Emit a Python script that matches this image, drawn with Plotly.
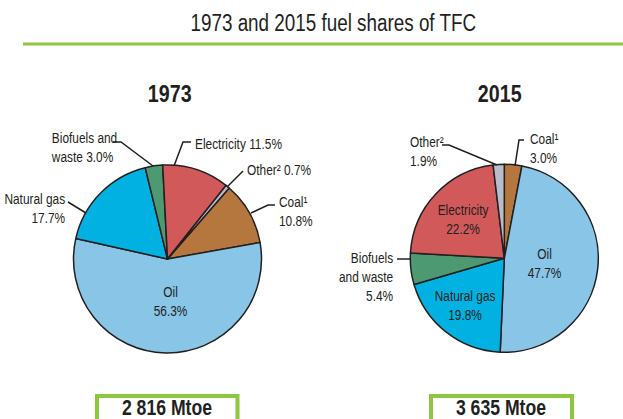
import plotly.graph_objects as go

# ---------------- data ----------------
years = ["1973", "2015"]
fuels = ["Coal¹", "Oil", "Natural gas", "Biofuels and waste", "Electricity", "Other²"]
shares_1973 = [10.8, 56.3, 17.7, 3.0, 11.5, 0.7]
shares_2015 = [3.0, 47.7, 19.8, 5.4, 22.2, 1.9]
totals_mtoe = [2816, 3635]
title_text = "1973 and 2015 fuel shares of TFC"

# ---------------- styling ----------------
W, H = 623, 419
colors = ["#B5773D", "#89C5E7", "#00B1E1", "#4D9A72", "#D2595A", "#B8BDCC"]
ink = "#231F20"
green = "#8DC63F"
FONT = "Liberation Sans Narrow, Arial Narrow, Liberation Sans, Arial, sans-serif"


def X(px):
    return px / W


def Y(py):
    return 1 - py / H


pies = [
    dict(cx=167.5, cy=259.0, r=94.0, rotation=41, values=shares_1973),
    dict(cx=504.3, cy=258.3, r=94.0, rotation=0, values=shares_2015),
]

fig = go.Figure()
for p in pies:
    fig.add_trace(go.Pie(
        labels=fuels,
        values=p["values"],
        sort=False,
        direction="clockwise",
        rotation=p["rotation"],
        marker=dict(colors=colors, line=dict(color=ink, width=1.5)),
        textinfo="none",
        hoverinfo="label+percent",
        showlegend=False,
        domain=dict(x=[X(p["cx"] - p["r"]), X(p["cx"] + p["r"])],
                    y=[Y(p["cy"] + p["r"]), Y(p["cy"] - p["r"])]),
    ))

label_specs = [
    [
        (3, "Biofuels and<br>waste {v:.1f}%", 49, 147.8, "left"),
        (4, "Electricity {v:.1f}%", 192.7, 144, "left"),
        (5, "Other² {v:.1f}%", 245, 170, "left"),
        (0, "Coal¹<br>{v:.1f}%", 276.7, 211.2, "left"),
        (2, "Natural gas<br>{v:.1f}%", 66.7, 208.8, "right"),
        (1, "Oil<br>{v:.1f}%", 170, 301.2, "center"),
    ],
    [
        (5, "Other²<br>{v:.1f}%", 407.7, 151.2, "left"),
        (0, "Coal¹<br>{v:.1f}%", 528, 148.3, "left"),
        (4, "Electricity<br>{v:.1f}%", 463, 219.7, "center"),
        (2, "Natural gas<br>{v:.1f}%", 465, 305.5, "center"),
        (1, "Oil<br>{v:.1f}%", 544.7, 263, "center"),
        (3, "Biofuels<br>and waste<br>{v:.1f}%", 395, 277.2, "right"),
    ],
]

annotations = []
for yi, specs in enumerate(label_specs):
    vals = pies[yi]["values"]
    for idx, tpl, x, y, anc in specs:
        annotations.append(dict(
            text=tpl.format(v=vals[idx]), x=X(x), y=Y(y), xref="paper", yref="paper",
            xanchor=anc, yanchor="middle", align=anc, showarrow=False,
            font=dict(family=FONT, size=14.5, color=ink),
        ))

annotations.append(dict(text=title_text, x=X(333), y=Y(23), xref="paper", yref="paper",
                        xanchor="center", yanchor="middle", showarrow=False,
                        font=dict(family=FONT, size=23, color=ink)))
for yr, xc in zip(years, [169.7, 499.3]):
    annotations.append(dict(text="<b>" + yr + "</b>", x=X(xc), y=Y(93.3), xref="paper", yref="paper",
                            xanchor="center", yanchor="middle", showarrow=False,
                            font=dict(family=FONT, size=24, color=ink)))
shapes = []
for tot, (x0, x1) in zip(totals_mtoe, [(97, 237.5), (431, 572)]):
    txt = f"{tot:,}".replace(",", " ") + " Mtoe"
    annotations.append(dict(text="<b>" + txt + "</b>", x=X((x0 + x1) / 2), y=Y(407.5),
                            xref="paper", yref="paper", xanchor="center", yanchor="middle",
                            showarrow=False, font=dict(family=FONT, size=21.5, color=ink)))
    shapes.append(dict(type="rect", xref="paper", yref="paper", x0=X(x0), x1=X(x1),
                       y0=Y(440), y1=Y(396), line=dict(color=green, width=4)))

shapes.append(dict(type="line", xref="paper", yref="paper", x0=X(23), x1=X(625),
                   y0=Y(44), y1=Y(44), line=dict(color=green, width=3)))

leaders = [
    [(113, 142), (121, 142), (153, 166)],
    [(191, 142), (183, 142), (174, 166)],
    [(243, 171), (227, 187)],
    [(275, 205), (268, 205), (251, 213)],
    [(68, 202), (86, 213)],
    [(442, 145), (449, 145), (497, 165)],
    [(524, 140), (519, 140), (515, 166)],
    [(397, 259), (410, 259)],
]
for pts in leaders:
    path = "M " + " L ".join(f"{X(a):.5f},{Y(b):.5f}" for a, b in pts)
    shapes.append(dict(type="path", xref="paper", yref="paper", path=path,
                       line=dict(color=ink, width=1.5)))

fig.update_layout(
    width=W, height=H,
    margin=dict(l=0, r=0, t=0, b=0),
    paper_bgcolor="white", plot_bgcolor="white",
    annotations=annotations, shapes=shapes,
)

post_js = """
document.body.style.margin = '0';
document.body.style.overflow = 'hidden';
var gd = document.getElementById('{plot_id}');
var anns = gd.layout.annotations || [];
var S = 0.82;
gd.querySelectorAll('g.annotation').forEach(function(g){
  var i = parseInt(g.getAttribute('data-index'));
  var a = anns[i]; if(!a) return;
  var t = g.querySelector('text.annotation-text'); if(!t) return;
  var b = t.getBBox();
  var px = a.xanchor === 'left' ? b.x : (a.xanchor === 'right' ? b.x + b.width : b.x + b.width / 2);
  var prev = t.getAttribute('transform') || '';
  t.setAttribute('transform', prev + ' translate(' + px + ',0) scale(' + S + ',1) translate(' + (-px) + ',0)');
});
"""

fig.write_html("out.html", post_script=post_js, config={"displayModeBar": False})
